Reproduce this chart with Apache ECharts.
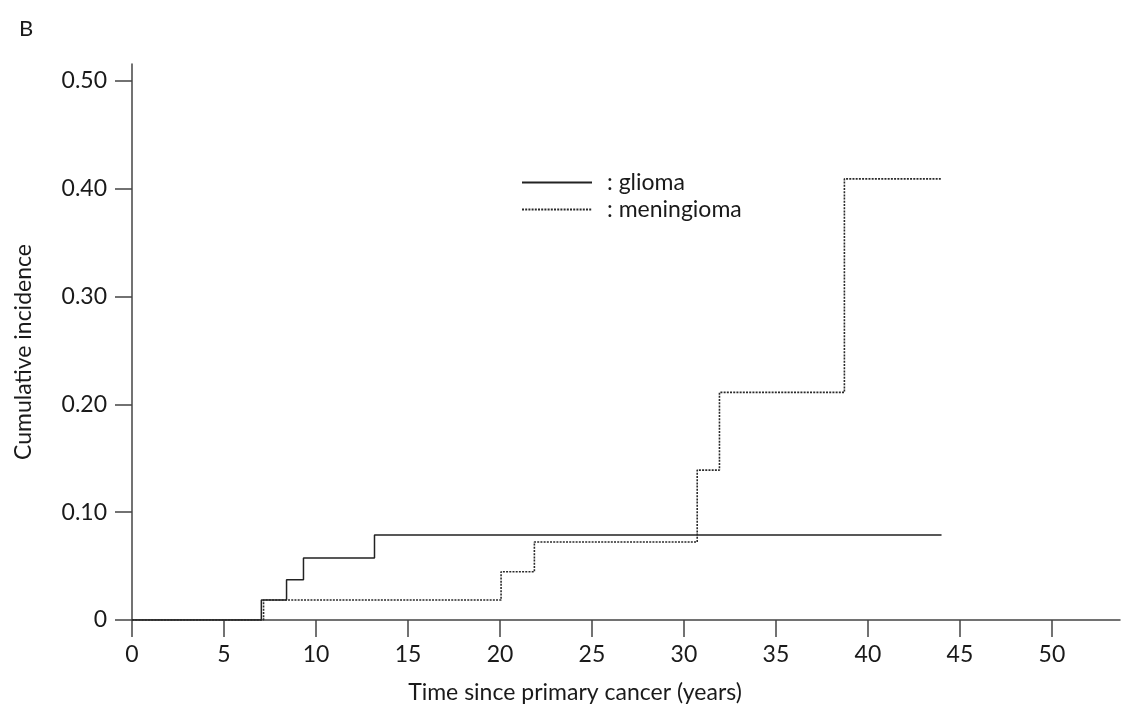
<!DOCTYPE html>
<html>
<head>
<meta charset="utf-8">
<title>Cumulative incidence</title>
<script src="https://cdn.jsdelivr.net/npm/echarts@6/dist/echarts.min.js"></script>
<style>
html, body { margin: 0; padding: 0; background: #fff; }
#charts { width: 1126px; height: 713px; }
</style>
</head>
<body>
<div id="charts"></div>
<script>
// values (time in years, cumulative incidence)
var gliomaTime = [0, 7.03, 8.4, 9.32, 13.18, 44.0];
var gliomaInc = [0, 0.0185, 0.0373, 0.0575, 0.0788, 0.0788];
var meningiomaTime = [0, 7.15, 20.06, 21.87, 30.72, 31.93, 38.72, 43.96];
var meningiomaInc = [0, 0.0185, 0.0448, 0.0723, 0.139, 0.211, 0.409, 0.409];
var xTicks = [0, 5, 10, 15, 20, 25, 30, 35, 40, 45, 50];
var yTicks = [0, 0.1, 0.2, 0.3, 0.4, 0.5];

function pairs(xs, ys){
	var out = [];
	for(var i = 0; i < xs.length; i++) out.push([xs[i], ys[i]]);
	return out;
}

var font = 'Lato';
var fs = 23;
var ink = '#1a1a1a';
var axisColor = '#444';

var charts = echarts.init(document.getElementById('charts'));
var option = {
	animation: false,
	backgroundColor: '#fff',
	title: {
		text: 'B',
		left: 14,
		top: 13,
		textStyle: { fontFamily: font, fontSize: 22, fontWeight: 'normal', color: ink }
	},
	grid: { left: 132, right: 6, top: 64, bottom: 93, containLabel: false },
	legend: {
		orient: 'vertical',
		left: 516,
		top: 166,
		itemWidth: 70,
		itemHeight: 20,
		itemGap: 4,
		formatter: ': {name}',
		itemStyle: { opacity: 0 },
		textStyle: { fontFamily: font, fontSize: fs, lineHeight: 20, color: ink, padding: [0, 0, 0, 10] },
		data: ['glioma', 'meningioma']
	},
	xAxis: {
		type: 'value',
		min: 0,
		max: 53.7,
		splitLine: { show: false },
		axisLine: { lineStyle: { color: axisColor, width: 1.5 } },
		axisTick: { show: true, length: 17, lineStyle: { color: axisColor, width: 1.5 }, customValues: xTicks },
		axisLabel: { margin: 23, fontFamily: font, fontSize: fs, color: ink, customValues: xTicks },
		name: 'Time since primary cancer (years)',
		nameLocation: 'middle',
		nameGap: 61,
		nameTextStyle: { fontFamily: font, fontSize: fs, color: ink, padding: [0, 102, 0, 0] }
	},
	yAxis: {
		type: 'value',
		min: 0,
		max: 0.5155,
		splitLine: { show: false },
		axisLine: { show: true, lineStyle: { color: axisColor, width: 1.5 } },
		axisTick: { show: true, length: 17, lineStyle: { color: axisColor, width: 1.5 }, customValues: yTicks },
		axisLabel: {
			margin: 25, fontFamily: font, fontSize: fs, color: ink, customValues: yTicks,
			formatter: function(v){ return v === 0 ? '0' : v.toFixed(2); }
		},
		name: 'Cumulative incidence',
		nameLocation: 'middle',
		nameGap: 97,
		nameTextStyle: { fontFamily: font, fontSize: fs, color: ink, padding: [0, 20, 0, 0] }
	},
	series: [
		{
			name: 'glioma',
			type: 'line',
			step: 'end',
			symbol: 'none',
			color: '#222',
			lineStyle: { color: '#222', width: 1.5, type: 'solid' },
			data: pairs(gliomaTime, gliomaInc)
		},
		{
			name: 'meningioma',
			type: 'line',
			step: 'end',
			symbol: 'none',
			color: '#333',
			lineStyle: { color: '#2a2a2a', width: 1.6, type: [2, 1.2] },
			data: pairs(meningiomaTime, meningiomaInc)
		}
	]
};
charts.setOption(option);
</script>
</body>
</html>
